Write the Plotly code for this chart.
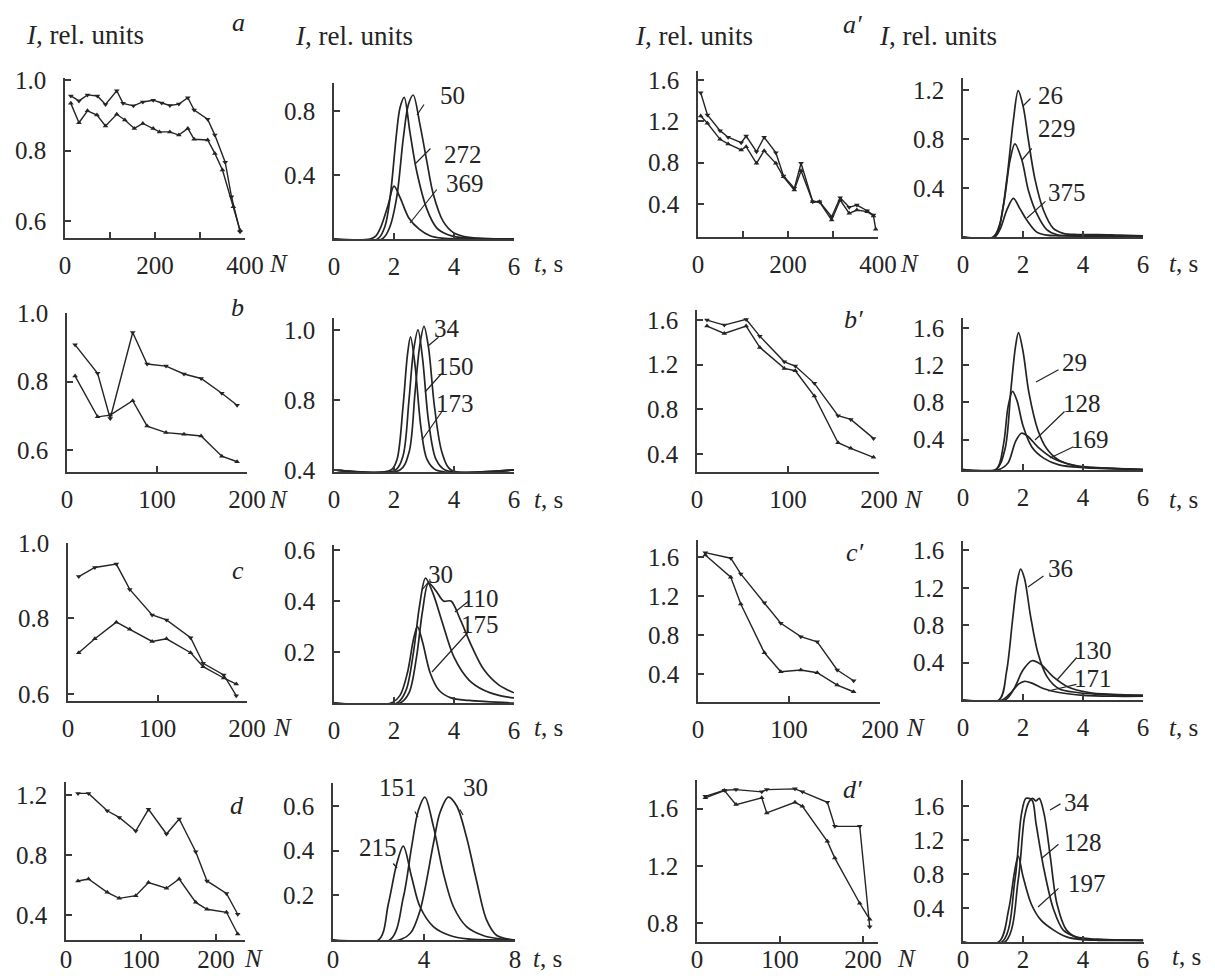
import plotly.graph_objects as go

W, H = 1215, 976
FONT = "Liberation Serif"
INK = "#242424"
AXC = "#3a3a3a"
FS = 25

# ---------------- data: intensity vs pulse number N ----------------
A1_N_up = [13, 31, 50, 72, 90, 115, 129, 152, 173, 196, 215, 233, 253, 273, 287, 317, 333, 356, 370, 389]
A1_I_up = [0.955, 0.941, 0.958, 0.955, 0.931, 0.970, 0.934, 0.927, 0.938, 0.943, 0.935, 0.928, 0.932, 0.950, 0.915, 0.889, 0.844, 0.767, 0.669, 0.570]
A1_N_lo = [13, 31, 50, 71, 90, 115, 133, 154, 173, 196, 210, 233, 253, 273, 287, 317, 333, 350, 374, 389]
A1_I_lo = [0.934, 0.879, 0.913, 0.901, 0.870, 0.903, 0.887, 0.863, 0.877, 0.863, 0.853, 0.853, 0.844, 0.863, 0.832, 0.830, 0.792, 0.745, 0.641, 0.574]

A3_N_up = [6, 21, 49, 67, 96, 107, 130, 147, 173, 190, 214, 229, 255, 270, 297, 316, 336, 353, 376, 390]
A3_I_up = [1.477, 1.262, 1.11, 1.046, 0.993, 1.058, 0.906, 1.046, 0.897, 0.671, 0.552, 0.794, 0.422, 0.422, 0.277, 0.461, 0.368, 0.39, 0.335, 0.294]
A3_N_lo = [6, 21, 49, 67, 96, 107, 130, 147, 173, 190, 214, 229, 255, 270, 297, 316, 336, 353, 376, 390, 395]
A3_I_lo = [1.252, 1.181, 1.026, 0.981, 0.923, 0.955, 0.794, 0.916, 0.794, 0.664, 0.535, 0.722, 0.422, 0.422, 0.245, 0.439, 0.31, 0.342, 0.326, 0.284, 0.155]

B1_N = [9, 34, 48, 73, 89, 110, 130, 149, 172, 189]
B1_I_up = [0.907, 0.824, 0.692, 0.943, 0.851, 0.845, 0.822, 0.809, 0.766, 0.731]
B1_I_lo = [0.816, 0.697, 0.702, 0.744, 0.670, 0.651, 0.646, 0.641, 0.582, 0.566]

B3_N = [11, 30, 54, 69, 96, 108, 129, 155, 169, 194]
B3_I_up = [1.60, 1.555, 1.606, 1.456, 1.226, 1.188, 1.033, 0.743, 0.71, 0.54]
B3_I_lo = [1.546, 1.48, 1.546, 1.355, 1.167, 1.146, 0.919, 0.501, 0.451, 0.37]

C1_N = [12, 30, 54, 69, 94, 110, 137, 151, 174, 188]
C1_I_up = [0.911, 0.935, 0.944, 0.877, 0.809, 0.796, 0.749, 0.681, 0.650, 0.595]
C1_I_lo = [0.709, 0.746, 0.790, 0.771, 0.739, 0.746, 0.709, 0.672, 0.642, 0.626]

C3_N = [8, 36, 47, 73, 91, 113, 131, 153, 171]
C3_I_up = [1.644, 1.587, 1.426, 1.131, 0.92, 0.783, 0.731, 0.441, 0.331]
C3_I_lo = [1.62, 1.392, 1.118, 0.618, 0.424, 0.441, 0.413, 0.287, 0.218]

D1_N = [16, 30, 55, 71, 93, 110, 134, 151, 173, 188, 214, 229]
D1_I_up = [1.211, 1.211, 1.095, 1.051, 0.96, 1.105, 0.94, 1.04, 0.822, 0.627, 0.544, 0.405]
D1_I_lo = [0.627, 0.64, 0.551, 0.511, 0.529, 0.616, 0.578, 0.64, 0.484, 0.438, 0.418, 0.273]

D3_N = [10, 33, 47, 78, 84, 118, 127, 157, 166, 196, 208]
D3_I_up = [1.686, 1.728, 1.733, 1.717, 1.733, 1.738, 1.717, 1.644, 1.476, 1.476, 0.774]
D3_I_lo = [1.675, 1.726, 1.628, 1.675, 1.57, 1.644, 1.616, 1.371, 1.254, 0.938, 0.826]

# ---------------- data: pulse shapes I(t) ----------------
A2_t50 = [0, 1.6, 1.85, 2.09, 2.31, 2.48, 2.64, 2.87, 3.09, 3.31, 3.64, 3.98, 4.5, 6]
A2_I50 = [0, 0, 0.07, 0.26, 0.63, 0.84, 0.9, 0.71, 0.49, 0.28, 0.11, 0.04, 0.01, 0]
A2_t272 = [0, 1.45, 1.7, 1.87, 2.09, 2.2, 2.34, 2.53, 2.76, 3.09, 3.42, 3.76, 4.2, 6]
A2_I272 = [0, 0, 0.08, 0.26, 0.67, 0.82, 0.885, 0.67, 0.42, 0.19, 0.07, 0.03, 0.01, 0]
A2_t369 = [0, 1.2, 1.4, 1.55, 1.8, 2.0, 2.2, 2.5, 2.85, 3.2, 3.6, 6]
A2_I369 = [0, 0, 0.02, 0.07, 0.21, 0.33, 0.26, 0.13, 0.06, 0.02, 0.005, 0]

A4_t26 = [0, 1.0, 1.23, 1.46, 1.68, 1.84, 2.01, 2.18, 2.4, 2.68, 3.01, 3.34, 3.8, 4.5, 5.2, 6]
A4_I26 = [0, 0, 0.11, 0.47, 0.955, 1.195, 1.06, 0.79, 0.47, 0.22, 0.07, 0.03, 0.02, 0.02, 0.015, 0.01]
A4_t229 = [0, 1.05, 1.34, 1.57, 1.73, 1.96, 2.18, 2.46, 2.79, 3.12, 3.6, 6]
A4_I229 = [0, 0, 0.25, 0.63, 0.76, 0.63, 0.38, 0.19, 0.06, 0.02, 0.01, 0.01]
A4_t375 = [0, 1.05, 1.23, 1.46, 1.68, 1.9, 2.12, 2.46, 2.79, 3.2, 6]
A4_I375 = [0, 0, 0.06, 0.22, 0.315, 0.23, 0.14, 0.04, 0.015, 0.01, 0.01]

B2_t34 = [0, 2.2, 2.5, 2.7, 2.85, 3.0, 3.15, 3.35, 3.6, 3.9, 6]
B2_I34 = [0.6, 0.6, 0.65, 0.82, 0.95, 1.01, 0.95, 0.78, 0.65, 0.6, 0.6]
B2_t150 = [0, 2.05, 2.3, 2.5, 2.65, 2.8, 2.95, 3.15, 3.4, 3.7, 6]
B2_I150 = [0.6, 0.6, 0.64, 0.8, 0.94, 1.0, 0.92, 0.74, 0.63, 0.6, 0.6]
B2_t173 = [0, 1.9, 2.1, 2.3, 2.45, 2.55, 2.7, 2.9, 3.1, 3.4, 6]
B2_I173 = [0.6, 0.6, 0.63, 0.78, 0.93, 0.98, 0.9, 0.72, 0.63, 0.6, 0.6]

B4_t29 = [0, 1.1, 1.4, 1.6, 1.75, 1.85, 2.0, 2.2, 2.5, 2.8, 3.2, 3.8, 4.5, 5.2, 6]
B4_I29 = [0.08, 0.08, 0.3, 0.95, 1.4, 1.55, 1.35, 0.9, 0.5, 0.3, 0.18, 0.12, 0.1, 0.09, 0.08]
B4_t128 = [0, 1.1, 1.35, 1.5, 1.65, 1.8, 2.0, 2.3, 2.7, 3.2, 4, 5, 6]
B4_I128 = [0.08, 0.08, 0.35, 0.75, 0.92, 0.82, 0.55, 0.32, 0.2, 0.13, 0.1, 0.09, 0.08]
B4_t169 = [0, 1.2, 1.5, 1.75, 1.95, 2.15, 2.5, 3.0, 3.5, 4.2, 5, 6]
B4_I169 = [0.08, 0.08, 0.15, 0.38, 0.47, 0.44, 0.32, 0.2, 0.14, 0.1, 0.09, 0.08]

C2_t30 = [0, 2.1, 2.4, 2.65, 2.85, 3.05, 3.3, 3.6, 4.0, 4.5, 5.0, 5.5, 6]
C2_I30 = [0, 0, 0.05, 0.2, 0.38, 0.49, 0.43, 0.32, 0.18, 0.09, 0.05, 0.03, 0.02]
C2_t110 = [0, 2.2, 2.5, 2.75, 2.95, 3.15, 3.4, 3.65, 3.9, 4.2, 4.6, 5.0, 5.5, 6]
C2_I110 = [0, 0, 0.04, 0.18, 0.36, 0.47, 0.44, 0.40, 0.40, 0.33, 0.22, 0.13, 0.07, 0.04]
C2_t175 = [0, 1.9, 2.2, 2.45, 2.65, 2.78, 2.95, 3.2, 3.5, 3.9, 4.5, 6]
C2_I175 = [0, 0, 0.03, 0.12, 0.25, 0.3, 0.24, 0.12, 0.05, 0.02, 0.01, 0]

C4_t36 = [0, 1.2, 1.45, 1.65, 1.8, 1.92, 2.05, 2.25, 2.5, 2.8, 3.2, 3.8, 4.5, 5.2, 6]
C4_I36 = [0, 0, 0.3, 0.85, 1.25, 1.4, 1.3, 0.9, 0.5, 0.25, 0.12, 0.08, 0.06, 0.05, 0.05]
C4_t130 = [0, 1.4, 1.7, 2.0, 2.3, 2.6, 3.0, 3.5, 4.2, 5, 6]
C4_I130 = [0, 0, 0.12, 0.32, 0.42, 0.38, 0.25, 0.14, 0.08, 0.06, 0.05]
C4_t171 = [0, 1.3, 1.6, 1.85, 2.05, 2.3, 2.7, 3.2, 4, 5, 6]
C4_I171 = [0, 0, 0.08, 0.17, 0.2, 0.18, 0.12, 0.08, 0.05, 0.04, 0.04]

D2_t151 = [0, 2.5, 3.09, 3.46, 3.75, 4.04, 4.41, 4.85, 5.29, 5.87, 6.6, 7.3, 8]
D2_I151 = [0, 0, 0.19, 0.42, 0.58, 0.64, 0.51, 0.30, 0.15, 0.06, 0.02, 0.005, 0]
D2_t30 = [0, 2.9, 3.4, 3.82, 4.41, 4.7, 5.07, 5.44, 5.87, 6.3, 6.75, 7.2, 8]
D2_I30 = [0, 0, 0.03, 0.13, 0.43, 0.57, 0.64, 0.60, 0.46, 0.27, 0.09, 0.02, 0]
D2_t215 = [0, 2.0, 2.43, 2.8, 3.09, 3.46, 3.82, 4.41, 5.14, 5.9, 8]
D2_I215 = [0, 0, 0.16, 0.34, 0.42, 0.28, 0.15, 0.06, 0.02, 0.005, 0]

D4_t34 = [0, 1.4, 1.84, 2.05, 2.2, 2.32, 2.43, 2.54, 2.7, 2.91, 3.13, 3.45, 3.88, 4.5, 6]
D4_I34 = [0, 0, 0.73, 1.47, 1.65, 1.69, 1.66, 1.69, 1.51, 1.0, 0.45, 0.14, 0.04, 0.03, 0.02]
D4_t128 = [0, 1.3, 1.73, 1.95, 2.1, 2.3, 2.43, 2.7, 3.02, 3.34, 3.77, 4.5, 6]
D4_I128 = [0, 0, 0.73, 1.51, 1.69, 1.67, 1.40, 0.85, 0.38, 0.14, 0.06, 0.03, 0.02]
D4_t197 = [0, 1.19, 1.52, 1.71, 1.84, 2.0, 2.27, 2.59, 3.02, 3.45, 3.88, 4.5, 5.2, 6]
D4_I197 = [0, 0, 0.38, 0.81, 1.01, 0.77, 0.45, 0.26, 0.14, 0.06, 0.03, 0.02, 0.02, 0.02]

# ---------------- panel geometry (pixel boxes) ----------------
N4 = ([0, 100, 200, 300, 400], ['0', '', '200', '', '400'])
N2 = ([0, 100, 200], ['0', '100', '200'])
T6 = ([0, 2, 4, 6], ['0', '2', '4', '6'])
T8 = ([0, 4, 8], ['0', '4', '8'])
Y_6_10 = ([0.6, 0.8, 1.0], ['0.6', '0.8', '1.0'])
Y_4_16 = ([0.4, 0.8, 1.2, 1.6], ['0.4', '0.8', '1.2', '1.6'])

# name, px(x0,x1), py(top,bottom), xrange, yrange, xticks, yticks, x-label standoff
panels = [
    ('A1', (65, 245), (78, 238), (0, 400), (0.552, 1.006), N4, Y_6_10, 4),
    ('A2', (334, 514), (83, 239), (0, 6), (0, 0.975), T6, ([0.4, 0.8], ['0.4', '0.8']), 4),
    ('A3', (698, 878), (71, 237), (0, 400), (0.081, 1.687), N4, Y_4_16, 4),
    ('A4', (963, 1143), (78, 237), (0, 6), (0, 1.298), T6, ([0.4, 0.8, 1.2], ['0.4', '0.8', '1.2']), 4),
    ('B1', (67, 247), (313, 472), (0, 200), (0.536, 1.0), N2, Y_6_10, 4),
    ('B2', (334, 514), (318, 472), (0, 6), (0.594, 1.034), T6, ([0.6, 0.8, 1.0], ['0.4', '0.8', '1.0']), 4),
    ('B3', (697, 879), (310, 472), (0, 200), (0.239, 1.69), N2, Y_4_16, 4),
    ('B4', (963, 1143), (318, 470), (0, 6), (0.075, 1.707), T6, Y_4_16, 4),
    ('C1', (68, 247), (543, 701), (0, 200), (0.581, 1.0), N2, Y_6_10, 4),
    ('C2', (334, 514), (545, 703), (0, 6), (0, 0.62), T6, ([0.2, 0.4, 0.6], ['0.2', '0.4', '0.6']), 4),
    ('C3', (698, 880), (540, 702), (0, 200), (0.113, 1.774), N2, Y_4_16, 4),
    ('C4', (963, 1143), (541, 700), (0, 6), (0, 1.7), T6, Y_4_16, 4),
    ('D1', (66, 245), (782, 940), (0, 238.7), (0.233, 1.287), N2, ([0.4, 0.8, 1.2], ['0.4', '0.8', '1.2']), -4),
    ('D2', (333, 515), (783, 940), (0, 8), (0, 0.703), T8, ([0.2, 0.4, 0.6], ['0.2', '0.4', '0.6']), -4),
    ('D3', (697, 878), (780, 942), (0, 218), (0.667, 1.80), N2, ([0.8, 1.2, 1.6], ['0.8', '1.2', '1.6']), -6),
    ('D4', (963, 1144), (780, 942), (0, 6.03), (0, 1.906), T6, Y_4_16, -6),
]

curves_N = {
    'A1': [(A1_N_up, A1_I_up), (A1_N_lo, A1_I_lo)],
    'A3': [(A3_N_up, A3_I_up), (A3_N_lo, A3_I_lo)],
    'B1': [(B1_N, B1_I_up), (B1_N, B1_I_lo)],
    'B3': [(B3_N, B3_I_up), (B3_N, B3_I_lo)],
    'C1': [(C1_N, C1_I_up), (C1_N, C1_I_lo)],
    'C3': [(C3_N, C3_I_up), (C3_N, C3_I_lo)],
    'D1': [(D1_N, D1_I_up), (D1_N, D1_I_lo)],
    'D3': [(D3_N, D3_I_up), (D3_N, D3_I_lo)],
}
curves_t = {
    'A2': [(A2_t50, A2_I50), (A2_t272, A2_I272), (A2_t369, A2_I369)],
    'A4': [(A4_t26, A4_I26), (A4_t229, A4_I229), (A4_t375, A4_I375)],
    'B2': [(B2_t34, B2_I34), (B2_t150, B2_I150), (B2_t173, B2_I173)],
    'B4': [(B4_t29, B4_I29), (B4_t128, B4_I128), (B4_t169, B4_I169)],
    'C2': [(C2_t30, C2_I30), (C2_t110, C2_I110), (C2_t175, C2_I175)],
    'C4': [(C4_t36, C4_I36), (C4_t130, C4_I130), (C4_t171, C4_I171)],
    'D2': [(D2_t151, D2_I151), (D2_t30, D2_I30), (D2_t215, D2_I215)],
    'D4': [(D4_t34, D4_I34), (D4_t128, D4_I128), (D4_t197, D4_I197)],
}

labels = {
    'A2': [('50', (452, 95), (425, 103), (417, 115)), ('272', (463, 154), (432, 147), (415, 164)), ('369', (465, 183), (438, 188), (410, 223))],
    'A4': [('26', (1050, 95), (1032, 97), (1023, 106)), ('229', (1057, 128), (1033, 147), (1022, 160)), ('375', (1067, 192), (1047, 200), (1027, 218))],
    'B2': [('34', (447, 328), (440, 336), (428, 346)), ('150', (455, 366), (443, 372), (425, 392)), ('173', (455, 403), (443, 410), (422, 440))],
    'B4': [('29', (1074, 362), (1060, 369), (1036, 382)), ('128', (1082, 404), (1066, 410), (1035, 440)), ('169', (1090, 440), (1075, 446), (1050, 458))],
    'C2': [('30', (440, 574), (430, 580), (422, 590)), ('110', (480, 598), (470, 600), (455, 612)), ('175', (480, 624), (470, 630), (432, 672))],
    'C4': [('36', (1060, 568), (1045, 575), (1028, 587)), ('130', (1093, 650), (1078, 656), (1057, 680)), ('171', (1093, 678), (1078, 684), (1048, 691))],
    'D2': [('151', (398, 787), (414, 810), (418, 817)), ('30', (475, 787), (459, 808), (463, 815)), ('215', (378, 847), (392, 862), (397, 868))],
    'D4': [('34', (1077, 802), (1062, 803), (1050, 810)), ('128', (1083, 842), (1060, 843), (1042, 858)), ('197', (1087, 883), (1060, 887), (1038, 907))],
}

panel_letters = [('a', (238, 22)), ('b', (237, 307)), ('c', (238, 570)), ('d', (237, 805)),
                 ("a′", (852, 24)), ("b′", (853, 320)), ("c′", (855, 552)), ("d′", (852, 789))]
headers = [(85, 35), (354, 36), (694, 36), (938, 36)]
N_labels = [(278, 264), (278, 499), (282, 727), (253, 958), (909, 264), (914, 499), (915, 727), (906, 958)]
t_labels = [(548, 264), (548, 499), (548, 727), (547, 958), (1183, 264), (1183, 499), (1183, 727), (1186, 956)]

fig = go.Figure()
geom = {}
for i, (name, pxx, pyy, xr, yr, xt, yt, xso) in enumerate(panels, start=1):
    sfx = '' if i == 1 else str(i)
    geom[name] = (sfx, pxx, pyy, xr, yr)
    common = dict(showline=True, linecolor=AXC, linewidth=1.6, ticks='inside', ticklen=6,
                  tickwidth=1.5, tickcolor=AXC, showgrid=False, zeroline=False, fixedrange=True,
                  automargin=False, tickfont=dict(family=FONT, size=FS, color=INK))
    fig.layout['xaxis' + sfx] = dict(domain=[pxx[0] / W, pxx[1] / W], range=list(xr), anchor='y' + sfx,
                                    tickvals=xt[0], ticktext=xt[1], ticklabelstandoff=xso, **common)
    fig.layout['yaxis' + sfx] = dict(domain=[1 - pyy[1] / H, 1 - pyy[0] / H], range=list(yr), anchor='x' + sfx,
                                    tickvals=yt[0], ticktext=yt[1], ticklabelstandoff=12, **common)


def to_data(name, X, Y):
    sfx, pxx, pyy, xr, yr = geom[name]
    xd = xr[0] + (X - pxx[0]) / (pxx[1] - pxx[0]) * (xr[1] - xr[0])
    yd = yr[0] + (pyy[1] - Y) / (pyy[1] - pyy[0]) * (yr[1] - yr[0])
    return xd, yd


for name, series in curves_N.items():
    sfx = geom[name][0]
    for k, (xs, ys) in enumerate(series):
        fig.add_trace(go.Scatter(x=xs, y=ys, mode='lines+markers', xaxis='x' + sfx, yaxis='y' + sfx,
                                 line=dict(color=INK, width=1.4),
                                 marker=dict(symbol='triangle-down' if k == 0 else 'triangle-up', size=5, color=INK),
                                 showlegend=False, hoverinfo='skip'))

for name, series in curves_t.items():
    sfx = geom[name][0]
    for xs, ys in series:
        fig.add_trace(go.Scatter(x=xs, y=ys, mode='lines', xaxis='x' + sfx, yaxis='y' + sfx,
                                 line=dict(color=INK, width=1.7, shape='spline', smoothing=0.9),
                                 showlegend=False, hoverinfo='skip'))


def txt_ann(text, X, Y, size=FS):
    return dict(text=text, x=X / W, y=1 - Y / H, xref='paper', yref='paper', showarrow=False,
                xanchor='center', yanchor='middle', font=dict(family=FONT, size=size, color=INK))


ann = []
for name, items in labels.items():
    sfx = geom[name][0]
    for txt, (tx, ty), s, e in items:
        ann.append(txt_ann(txt, tx, ty))
        ex, ey = to_data(name, *e)
        sx, sy = to_data(name, *s)
        ann.append(dict(text='', x=ex, y=ey, ax=sx, ay=sy, xref='x' + sfx, yref='y' + sfx,
                        axref='x' + sfx, ayref='y' + sfx, showarrow=True, arrowhead=0,
                        arrowwidth=1.2, arrowcolor=INK))

for txt, (x, y) in panel_letters:
    ann.append(txt_ann('<i>' + txt + '</i>', x, y, FS + 1))
for x, y in headers:
    ann.append(txt_ann('<i>I</i>, rel. units', x, y, FS + 2))
for x, y in N_labels:
    ann.append(txt_ann('<i>N</i>', x, y))
for x, y in t_labels:
    ann.append(txt_ann('<i>t</i>, s', x, y))

fig.update_layout(width=W, height=H, margin=dict(l=0, r=0, t=0, b=0, pad=0), autosize=False,
                  paper_bgcolor='white', plot_bgcolor='white', annotations=ann,
                  font=dict(family=FONT, color=INK))

fig.write_html("out.html", config={'displayModeBar': False},
               post_script="document.body.style.margin='0px';document.body.style.padding='0px';")
